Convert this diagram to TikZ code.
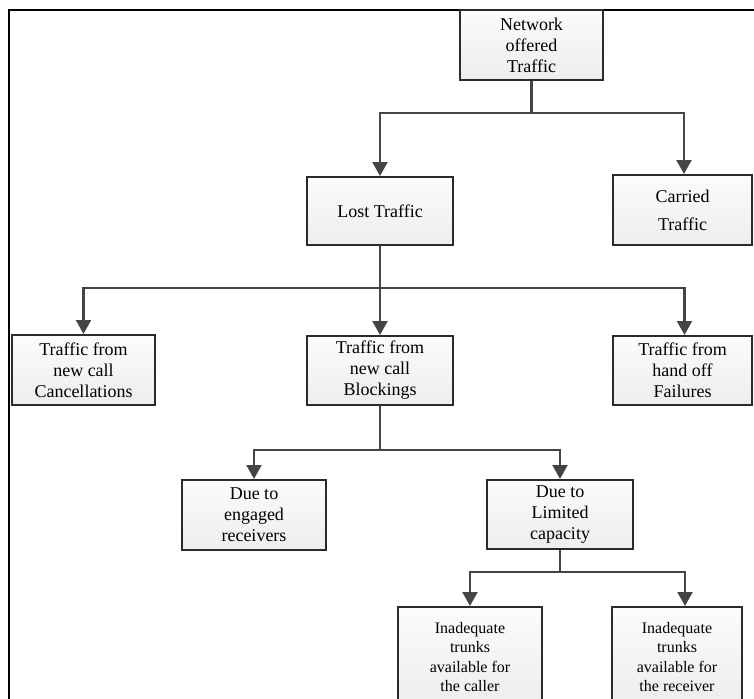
\documentclass[tikz,border=0pt]{standalone}
\usepackage{fontspec}
\setmainfont{Liberation Serif}
\usetikzlibrary{arrows.meta}

\definecolor{lineColor}{HTML}{454545}
\definecolor{boxColor}{HTML}{2B2B2B}

\tikzset{
  box/.style={shape=rectangle, draw=boxColor, line width=2pt, top color=gray!3, bottom color=gray!14,
    align=center, inner sep=0pt, font=\fontsize{18}{21}\selectfont},
  smallbox/.style={box, font=\fontsize{16}{19.5}\selectfont},
  conn/.style={draw=lineColor, line width=2.2pt},
  arr/.style={conn, -{Triangle[width=15pt,length=14pt]}}
}

\begin{document}
\begin{tikzpicture}[x=1pt, y=-1pt]
      \useasboundingbox (0,0) rectangle (754,698);
      \clip (0,0) rectangle (754,698);

      \draw[line width=2.2pt, black] (9,720) -- (9,10) -- (770,10);

      \node[box, minimum width=143, minimum height=70] (N) at (531.5,45) {Network\\offered\\Traffic};

      \node[box, minimum width=146, minimum height=68] (LT) at (380,211) {Lost Traffic};
      \node[box, minimum width=139, minimum height=70] (CT) at (682.5,210) {Carried\\[7pt]Traffic};

      \node[box, minimum width=143, minimum height=70] (NC) at (83.5,370) {Traffic from\\new call\\Cancellations};
      \node[box, minimum width=146, minimum height=69] (NB) at (380,370.5) {Traffic from\\new call\\Blockings};
      \node[box, minimum width=139, minimum height=69] (HF) at (682.5,370.5) {Traffic from\\hand off\\Failures};

      \node[box, minimum width=144, minimum height=70] (ER) at (254,515) {Due to\\engaged\\receivers};
      \node[box, minimum width=146, minimum height=69] (LC) at (560,514.5) {Due to\\Limited\\capacity};

      \node[smallbox, minimum width=144, minimum height=100] (IC) at (470,657) {Inadequate\\trunks\\available for\\the caller};
      \node[smallbox, minimum width=130, minimum height=100] (IR) at (677,657) {Inadequate\\trunks\\available for\\the receiver};

      \coordinate (NJ) at (531.5,113);
      \coordinate (LJ) at (380,288);
      \coordinate (BJ) at (380,450);
      \coordinate (CJ) at (560,572);

      \draw[conn] (N) -- (NJ);
      \draw[arr] (NJ) -| (LT.north);
      \draw[arr] (NJ) -| ([xshift=1.5pt]CT.north);

      \draw[arr] (LT) -- (NB);
      \draw[arr] (LJ) -| (NC.north);
      \draw[arr] (LJ) -| ([xshift=2pt]HF.north);

      \draw[conn] (NB) -- (BJ);
      \draw[arr] (BJ) -| (ER.north);
      \draw[arr] (BJ) -| (LC.north);

      \draw[conn] (LC) -- (CJ);
      \draw[arr] (CJ) -| (IC.north);
      \draw[arr] (CJ) -| ([xshift=8pt]IR.north);
  \end{tikzpicture}
\end{document}
